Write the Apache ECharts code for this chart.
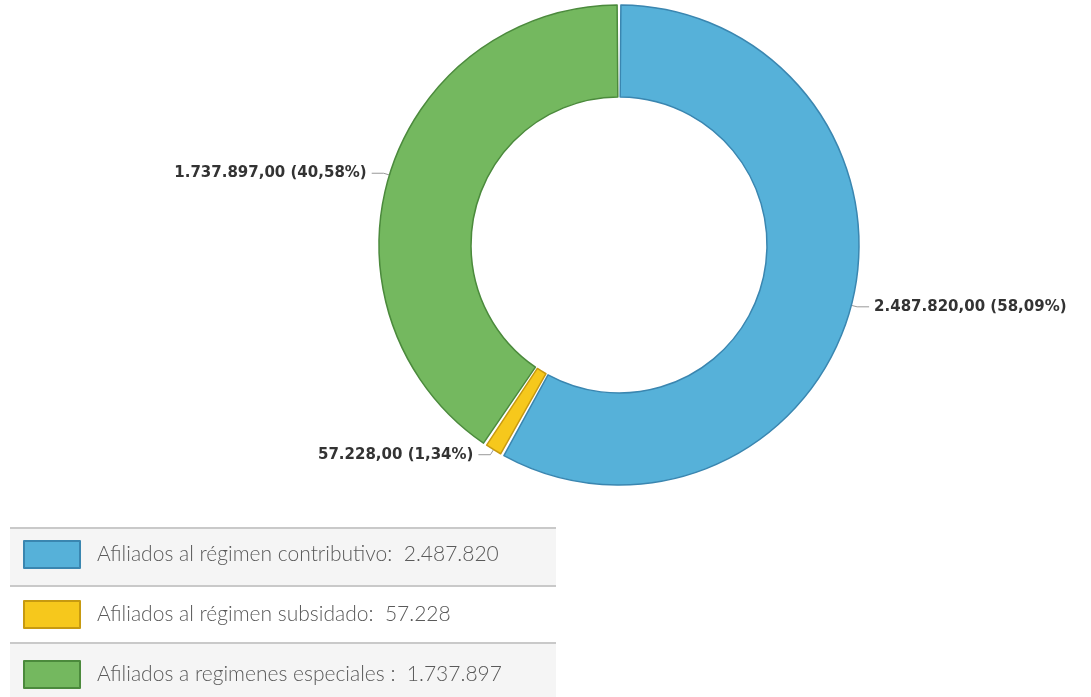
<!DOCTYPE html>
<html>
<head>
<meta charset="utf-8">
<title>Afiliados por régimen</title>
<script src="https://cdn.jsdelivr.net/npm/echarts@6/dist/echarts.min.js"></script>
<style>
  html, body { margin: 0; padding: 0; background: #fff; }
  #chart { width: 1091px; height: 697px; }
</style>
</head>
<body>
<div id="chart"></div>
<script>
// datos del gráfico
var categories = ['Afiliados al régimen contributivo:', 'Afiliados al régimen subsidado:', 'Afiliados a regimenes especiales :'];
var values = [2487820, 57228, 1737897];
var colors = ['#56b1d9', '#f6c81c', '#74b85f'];
var borders = ['#3a86b0', '#c79a10', '#4b8a3c'];

var total = values.reduce(function (a, b) { return a + b; }, 0);

function miles(n) {
  return String(n).replace(/\B(?=(\d{3})+(?!\d))/g, '.');
}

var chart = echarts.init(document.getElementById('chart'));

var pieData = categories.map(function (name, i) {
  return {
    name: name,
    value: values[i],
    itemStyle: { color: colors[i], borderColor: borders[i], borderWidth: 1.5 }
  };
});

var option = {
  animation: false,
  graphic: [
    { type: 'rect', z: -10, shape: { x: 10, y: 528, width: 546, height: 58 }, style: { fill: '#f5f5f5' } },
    { type: 'rect', z: -10, shape: { x: 10, y: 643, width: 546, height: 54 }, style: { fill: '#f5f5f5' } },
    { type: 'line', z: -9, shape: { x1: 10, y1: 528, x2: 556, y2: 528 }, style: { stroke: '#c9c9c9', lineWidth: 2 } },
    { type: 'line', z: -9, shape: { x1: 10, y1: 586, x2: 556, y2: 586 }, style: { stroke: '#c9c9c9', lineWidth: 2 } },
    { type: 'line', z: -9, shape: { x1: 10, y1: 643, x2: 556, y2: 643 }, style: { stroke: '#c9c9c9', lineWidth: 2 } }
  ],
  legend: {
    orient: 'vertical',
    left: 23,
    top: 540,
    padding: 0,
    height: 150,
    icon: 'rect',
    itemWidth: 56,
    itemHeight: 27,
    itemGap: 31,
    selectedMode: false,
    data: categories,
    formatter: function (name) {
      var i = categories.indexOf(name);
      return name + '  ' + miles(values[i]);
    },
    textStyle: {
      fontFamily: 'Lato',
      fontWeight: 300,
      fontSize: 21,
      color: '#5a5a5a',
      padding: [0, 0, 0, 12]
    }
  },
  series: [{
    type: 'pie',
    center: [619, 245],
    radius: [148, 240],
    startAngle: 90,
    clockwise: true,
    padAngle: 0.9,
    data: pieData,
    label: {
      show: true,
      position: 'outside',
      fontFamily: 'DejaVu Sans',
      fontWeight: 'bold',
      fontSize: 15,
      color: '#333',
      formatter: function (p) {
        var pct = (p.value / total * 100).toFixed(2).replace('.', ',');
        return miles(p.value) + ',00 (' + pct + '%)';
      }
    },
    labelLine: {
      show: true,
      length: 6,
      length2: 12,
      lineStyle: { color: '#999', width: 1 }
    },
    emphasis: { disabled: true }
  }]
};

chart.setOption(option);
</script>
</body>
</html>
